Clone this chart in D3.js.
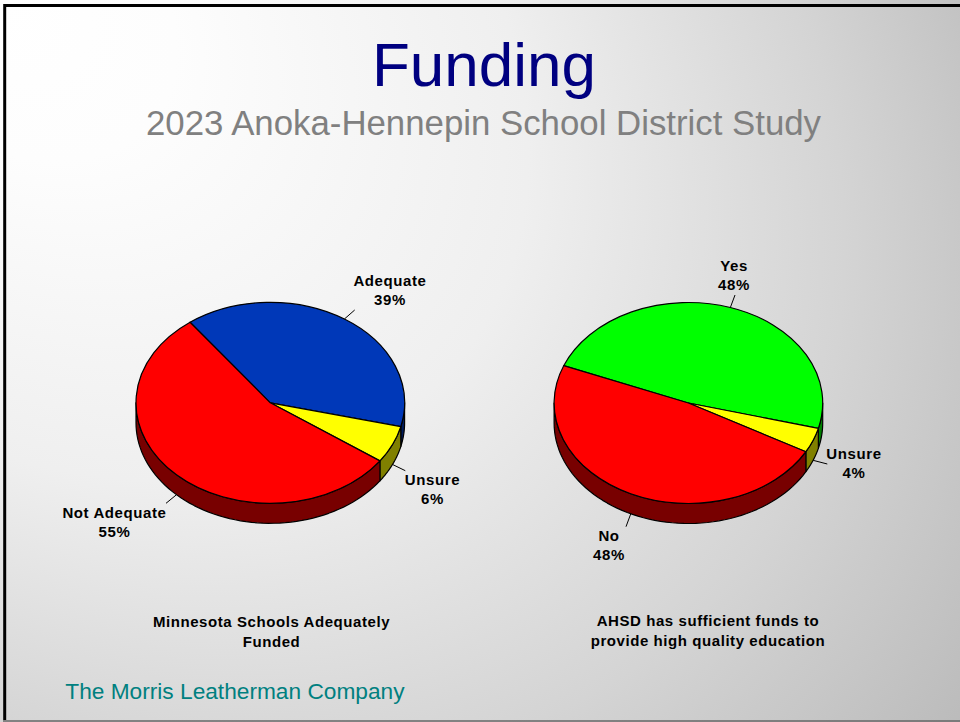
<!DOCTYPE html>
<html>
<head>
<meta charset="utf-8">
<style>
  html, body { margin: 0; padding: 0; background: #fff; }
  svg { display: block; }
  text { font-family: "Liberation Sans", Arial, sans-serif; }
</style>
<script src="https://cdn.jsdelivr.net/npm/d3@7"></script>
</head>
<body>
<svg id="chart" width="960" height="722"></svg>
<script>
// Survey results, in percent, in the order the slices run clockwise.
const leftCategories = ["Adequate", "Unsure", "Not Adequate"];
const leftValues = [39, 6, 55];
const leftColors = ["#0038b8", "#ffff00", "#ff0000"];
const leftSideColors = ["#001c5c", "#808000", "#780000"];
const leftCaption = ["Minnesota Schools Adequately", "Funded"];

const rightCategories = ["Yes", "Unsure", "No"];
const rightValues = [48, 4, 48];
const rightColors = ["#00ff00", "#ffff00", "#ff0000"];
const rightSideColors = ["#008000", "#808000", "#780000"];
const rightCaption = ["AHSD has sufficient funds to", "provide high quality education"];

const titleText = "Funding";
const subtitleText = "2023 Anoka-Hennepin School District Study";
const footerText = "The Morris Leatherman Company";

// Pie layout: centre, radii, rim depth, first-slice angle, and per-slice label placement.
const leftLayout = {
  cx: 270.3, cy: 402.8, rx: 134.3, ry: 100.5, depth: 20, start: 323.3,
  labels: [[390, 285.5], [432.5, 484.5], [114.5, 517.5]],
  leaderEnds: [[354.7, 310], [405.3, 470.7], [166, 503.3]]
};
const rightLayout = {
  cx: 688.4, cy: 403, rx: 134.3, ry: 100.5, depth: 20, start: 291.8,
  labels: [[734, 270.5], [854, 458.5], [609, 540.5]],
  leaderEnds: [[735, 295], [827.3, 464], [626, 526.7]]
};

const svg = d3.select("#chart");
const rad = d => d * Math.PI / 180;

// Slide background: white at the top-left corner, greying out along the slide's diagonal.
const defs = svg.append("defs");
const grad = defs.append("radialGradient")
  .attr("id", "slideBg")
  .attr("gradientUnits", "userSpaceOnUse")
  .attr("cx", 0).attr("cy", 0).attr("r", 1)
  .attr("gradientTransform", "rotate(36.87) scale(1296,916)");
[[0, "#ffffff"], [0.15, "#fdfdfd"], [0.45, "#efefef"], [0.72, "#d4d4d4"], [0.93, "#bbbbbb"], [1, "#b4b4b4"]]
  .forEach(([offset, color]) => {
    grad.append("stop").attr("offset", offset).attr("stop-color", color);
  });

svg.append("rect").attr("width", 960).attr("height", 722).attr("fill", "url(#slideBg)");

// Slide frame: heavy top and left edges, a thin grey bottom edge.
svg.append("path")
  .attr("d", d3.line()([[960, 5.6], [4.7, 5.6], [4.7, 720]]))
  .attr("fill", "none")
  .attr("stroke", "#000")
  .attr("stroke-width", 3);
svg.append("line")
  .attr("x1", 3).attr("y1", 721).attr("x2", 960).attr("y2", 721)
  .attr("stroke", "#666")
  .attr("stroke-width", 1.6);

// Heading block.
svg.append("text").attr("x", 484).attr("y", 86)
  .attr("text-anchor", "middle").attr("font-size", 62).attr("fill", "#000080")
  .attr("textLength", 224).attr("lengthAdjust", "spacingAndGlyphs")
  .text(titleText);
svg.append("text").attr("x", 483.5).attr("y", 135)
  .attr("text-anchor", "middle").attr("font-size", 35.5).attr("fill", "#808080")
  .attr("textLength", 675).attr("lengthAdjust", "spacingAndGlyphs")
  .text(subtitleText);
svg.append("text").attr("x", 65.3).attr("y", 699)
  .attr("font-size", 22.7).attr("fill", "#008080")
  .text(footerText);

function drawPie(categories, values, colors, sideColors, caption, captionX, captionY, layout) {
  const { cx, cy, rx, ry, depth, start } = layout;
  const slices = d3.pie().sort(null)
    .startAngle(rad(start)).endAngle(rad(start + 360))(values);

  const xAt = a => cx + rx * Math.sin(a);
  const yAt = a => cy - ry * Math.cos(a);
  const g = svg.append("g");

  // Rim: only the span facing the viewer, 90 to 270 degrees clockwise from the top.
  const outline = d3.line();
  const rimSpans = [];
  slices.forEach((s, i) => {
    [0, 2 * Math.PI, -2 * Math.PI].forEach(shift => {
      const a0 = Math.max(s.startAngle + shift, rad(90));
      const a1 = Math.min(s.endAngle + shift, rad(270));
      if (a1 > a0) rimSpans.push({ a0, a1, i });
    });
  });
  g.selectAll("path.rim").data(rimSpans).join("path")
    .attr("class", "rim")
    .attr("fill", d => sideColors[d.i])
    .attr("stroke", "#000")
    .attr("stroke-width", 1.2)
    .attr("stroke-linejoin", "round")
    .attr("d", d => {
      const steps = d3.range(0, 61).map(k => d.a0 + (d.a1 - d.a0) * k / 60);
      const top = steps.map(a => [xAt(a), yAt(a)]);
      const bottom = steps.slice().reverse().map(a => [xAt(a), yAt(a) + depth]);
      return outline(top.concat(bottom)) + "Z";
    });

  // Top face: a circular pie squashed into the tilted ellipse.
  const arc = d3.arc().innerRadius(0).outerRadius(rx);
  g.append("g")
    .attr("transform", `translate(${cx},${cy}) scale(1,${ry / rx})`)
    .selectAll("path").data(slices).join("path")
    .attr("d", arc)
    .attr("fill", (d, i) => colors[i])
    .attr("stroke", "#000")
    .attr("stroke-width", 1.2)
    .attr("stroke-linejoin", "round")
    .attr("vector-effect", "non-scaling-stroke");

  // Leader lines start on the slice's mid-angle, on the rim's lower edge when it faces front.
  slices.forEach((s, i) => {
    const mid = (s.startAngle + s.endAngle) / 2;
    const front = Math.cos(mid) < 0;
    const end = layout.leaderEnds[i];
    g.append("line")
      .attr("x1", xAt(mid)).attr("y1", yAt(mid) + (front ? depth : 0))
      .attr("x2", end[0]).attr("y2", end[1])
      .attr("stroke", "#000").attr("stroke-width", 1);

    const [lx, ly] = layout.labels[i];
    const t = g.append("text")
      .attr("text-anchor", "middle")
      .attr("font-size", 15).attr("font-weight", "bold")
      .attr("letter-spacing", 0.6).attr("fill", "#000");
    t.append("tspan").attr("x", lx).attr("y", ly).text(categories[i]);
    t.append("tspan").attr("x", lx).attr("y", ly + 19.2).text(values[i] + "%");
  });

  // Caption beneath the pie.
  const c = g.append("text")
    .attr("text-anchor", "middle")
    .attr("font-size", 15).attr("font-weight", "bold")
    .attr("letter-spacing", 0.57).attr("fill", "#000");
  caption.forEach((line, i) => {
    c.append("tspan").attr("x", captionX).attr("y", captionY + i * 20).text(line);
  });
}

drawPie(leftCategories, leftValues, leftColors, leftSideColors, leftCaption, 271.5, 626.5, leftLayout);
drawPie(rightCategories, rightValues, rightColors, rightSideColors, rightCaption, 708, 625.5, rightLayout);
</script>
</body>
</html>
